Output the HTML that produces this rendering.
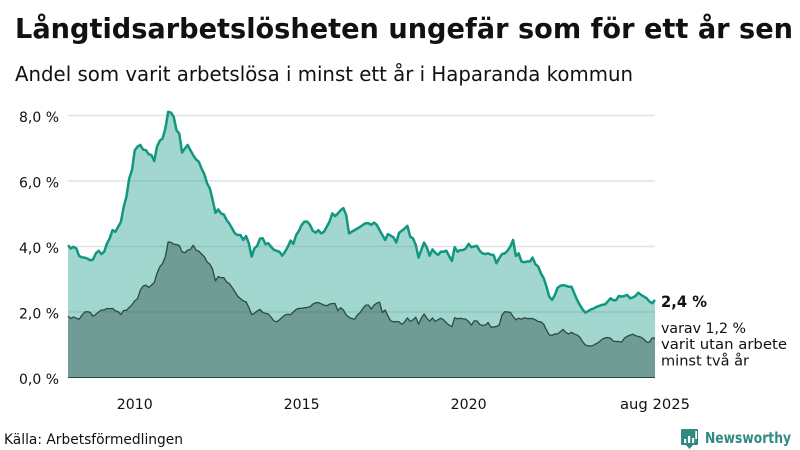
<!DOCTYPE html>
<html lang="sv">
<head>
<meta charset="utf-8">
<title>Långtidsarbetslösheten</title>
<style>
html,body{margin:0;padding:0;background:#fff;width:800px;height:450px;overflow:hidden}
svg{display:block}
text{font-family:"DejaVu Sans","Liberation Sans",sans-serif;fill:#111}
</style>
</head>
<body>
<svg id="chart" width="800" height="450" viewBox="0 0 800 450" xmlns="http://www.w3.org/2000/svg">
  <text x="15" y="38" font-size="28" font-weight="700" textLength="778" lengthAdjust="spacingAndGlyphs">Långtidsarbetslösheten ungefär som för ett år sen</text>
  <text x="15" y="81" font-size="20.5" textLength="618" lengthAdjust="spacingAndGlyphs">Andel som varit arbetslösa i minst ett år i Haparanda kommun</text>
  <g id="grid"></g>
  <g id="yticks"></g>
  <g id="xticks"></g>
  <g id="marks"></g>
  <text x="661" y="307" font-size="16" font-weight="700" textLength="46" lengthAdjust="spacingAndGlyphs">2,4 %</text>
  <text x="661" y="333" font-size="14" textLength="85" lengthAdjust="spacingAndGlyphs">varav 1,2 %</text>
  <text x="661" y="349" font-size="14" textLength="126" lengthAdjust="spacingAndGlyphs">varit utan arbete</text>
  <text x="661" y="365.5" font-size="14" textLength="88" lengthAdjust="spacingAndGlyphs">minst två år</text>
  <text x="4" y="444" font-size="14" textLength="179" lengthAdjust="spacingAndGlyphs">Källa: Arbetsförmedlingen</text>
  <g>
    <path d="M682 429h15a1 1 0 0 1 1 1v14a1 1 0 0 1-1 1h-4l-3.500 4-3.500-4h-4a1 1 0 0 1-1-1v-14a1 1 0 0 1 1-1z" fill="#2f8a80"/>
    <rect x="684" y="439" width="2.200" height="4" fill="#fff"/>
    <rect x="688" y="436" width="2.200" height="7" fill="#fff"/>
    <rect x="692" y="438" width="2.200" height="5" fill="#fff"/>
    <rect x="695.300" y="431" width="1.700" height="8" fill="#fff"/>
    <text x="705" y="443" font-size="15" font-weight="700" textLength="86" lengthAdjust="spacingAndGlyphs" style="fill:#2f8a80">Newsworthy</text>
  </g>
</svg>
<script>
const xTickIndexes = [24, 84, 144, 211];
const xTickLabels = ["2010", "2015", "2020", "aug 2025"];
const yTickValues = [0, 2, 4, 6, 8];
const yTickLabels = ["0,0 %", "2,0 %", "4,0 %", "6,0 %", "8,0 %"];
const atLeastOneYear = [
4.04,3.94,3.99,3.94,3.71,3.67,3.66,3.63,3.58,3.60,3.79,3.87,3.77,3.84,4.09,4.25,
4.50,4.45,4.60,4.75,5.20,5.52,6.08,6.33,6.94,7.05,7.10,6.96,6.94,6.82,6.79,6.61,7.05,7.23,7.30,7.60,
8.11,8.09,7.96,7.55,7.45,6.87,6.99,7.10,6.94,6.79,6.66,6.59,6.38,6.21,5.93,5.77,5.42,5.03,5.13,5.01,
4.98,4.81,4.70,4.55,4.40,4.35,4.35,4.20,4.32,4.10,
3.69,3.94,4.02,4.24,4.25,4.07,4.10,3.99,3.90,3.87,3.84,3.72,3.84,3.99,4.18,4.08,4.35,4.48,4.66,4.76,
4.76,4.66,4.48,4.42,4.50,4.40,4.45,4.60,4.76,5.01,4.93,5.01,5.11,5.17,4.96,4.40,4.45,4.50,4.55,4.60,
4.66,4.71,4.71,4.66,4.73,4.66,4.50,4.35,4.20,4.38,4.33,4.28,4.12,4.42,4.48,4.55,4.63,4.30,4.25,4.05,
3.66,3.90,4.12,3.97,3.72,3.91,3.81,3.74,3.84,
3.84,3.87,3.71,3.56,3.98,3.84,3.89,3.89,3.94,4.08,3.98,4.00,4.02,3.87,3.79,3.77,3.79,3.75,3.74,3.49,
3.64,3.77,3.79,3.87,4.00,4.20,3.71,3.79,3.54,3.52,3.54,3.54,3.66,3.46,3.39,3.18,3.03,2.77,2.47,2.37,
2.52,2.74,2.80,2.82,2.80,2.77,2.77,2.57,2.37,2.21,2.08,1.98,2.03,2.08,2.11,2.16,2.19,2.22,2.23,2.32,
2.42,2.36,2.36,2.49,2.47,2.49,2.52,2.42,2.44,2.49,2.59,2.52,2.47,2.42,2.32,2.27,2.37
];
const atLeastTwoYears = [
1.88,1.80,1.85,1.81,1.78,1.90,2.00,2.01,1.99,1.87,1.93,2.00,2.06,2.06,2.11,2.10,2.11,2.04,2.01,1.92,
2.05,2.05,2.14,2.22,2.34,2.41,2.67,2.79,2.82,2.75,2.82,2.90,3.18,3.38,3.48,3.69,4.14,4.13,4.07,4.06,
4.03,3.84,3.81,3.89,3.91,4.04,3.89,3.86,3.77,3.69,3.53,3.46,3.30,2.95,3.08,3.05,3.05,2.92,2.87,2.75,
2.62,2.48,2.41,2.34,2.31,2.14,1.92,1.96,2.03,2.08,1.99,1.96,1.94,1.84,1.73,1.70,1.76,1.84,1.91,1.93,
1.92,2.00,2.08,2.11,2.11,2.13,2.14,2.16,2.24,2.28,2.29,2.25,2.21,2.19,2.24,2.26,2.26,2.04,2.13,2.06,
1.91,1.84,1.80,1.78,1.91,1.98,2.11,2.21,2.21,2.09,2.21,2.27,2.30,1.98,2.06,1.88,1.73,1.70,1.71,1.70,
1.62,1.70,1.82,1.71,1.76,1.84,1.63,1.81,1.94,1.81,1.72,1.82,1.71,1.76,1.81,1.76,1.67,1.60,1.55,1.83,
1.79,1.81,1.79,1.78,1.71,1.60,1.73,1.73,1.62,1.59,1.60,1.68,1.54,1.54,1.56,1.60,1.91,2.01,2.00,1.99,
1.86,1.76,1.81,1.78,1.82,1.80,1.80,1.80,1.76,1.71,1.70,1.63,1.45,1.30,1.29,1.33,1.33,1.40,1.47,1.37,
1.33,1.38,1.33,1.30,1.23,1.09,0.99,0.97,0.96,0.99,1.04,1.09,1.17,1.21,1.22,1.20,1.11,1.10,1.10,1.08,
1.20,1.26,1.29,1.32,1.28,1.25,1.23,1.17,1.08,1.08,1.21,1.20
];

const NS = "http://www.w3.org/2000/svg";
const plot = { left: 68, right: 655, top: 115.5, bottom: 377.5, maxY: 8, maxI: 211 };
function xScale(i) { return plot.left + (plot.right - plot.left) * i / plot.maxI; }
function yScale(v) { return plot.bottom - (plot.bottom - plot.top) * v / plot.maxY; }
function make(tag, attrs, parent) {
  const el = document.createElementNS(NS, tag);
  for (const k in attrs) el.setAttribute(k, attrs[k]);
  parent.appendChild(el);
  return el;
}
function linePath(values) {
  return values.map((v, i) => (i ? "L" : "M") + xScale(i).toFixed(2) + " " + yScale(v).toFixed(2)).join("");
}
function areaPath(values) {
  return linePath(values) + "L" + xScale(values.length - 1).toFixed(2) + " " + yScale(0) +
    "L" + xScale(0).toFixed(2) + " " + yScale(0) + "Z";
}

const gridG = document.getElementById("grid");
const yG = document.getElementById("yticks");
const xG = document.getElementById("xticks");
const marks = document.getElementById("marks");

yTickValues.forEach((v, i) => {
  if (v !== 0) {
    const g = make("line", { x1: plot.left, x2: plot.right, y1: yScale(v), y2: yScale(v), stroke: "#e2e2e7", "stroke-width": 1.5 }, gridG);
    
    
  }
  const t = make("text", { x: 59, y: yScale(v) + 6.5, "font-size": 14.5, "text-anchor": "end", textLength: 40, lengthAdjust: "spacingAndGlyphs" }, yG);
  t.textContent = yTickLabels[i];
  
  
});

xTickIndexes.forEach((idx, i) => {
  const t = make("text", { x: xScale(idx), y: 409, "font-size": 14.5, "text-anchor": "middle", textLength: i === 3 ? 70 : 36, lengthAdjust: "spacingAndGlyphs" }, xG);
  t.textContent = xTickLabels[i];
  
  
});

const areaTop = make("path", { d: areaPath(atLeastOneYear), fill: "#179a87", "fill-opacity": 0.4 }, marks);


const lineTop = make("path", { d: linePath(atLeastOneYear), fill: "none", stroke: "#11967f", "stroke-width": 2.5, "stroke-linejoin": "round" }, marks);


const areaBottom = make("path", { d: areaPath(atLeastTwoYears), fill: "#2f4f4a", "fill-opacity": 0.43 }, marks);


const lineBottom = make("path", { d: linePath(atLeastTwoYears), fill: "none", stroke: "#2b4a45", "stroke-width": 1.3, "stroke-linejoin": "round" }, marks);


const baseLine = make("line", { x1: plot.left, x2: plot.right, y1: yScale(0), y2: yScale(0), stroke: "#2b4a45", "stroke-width": 1 }, marks);


</script>
</body>
</html>
